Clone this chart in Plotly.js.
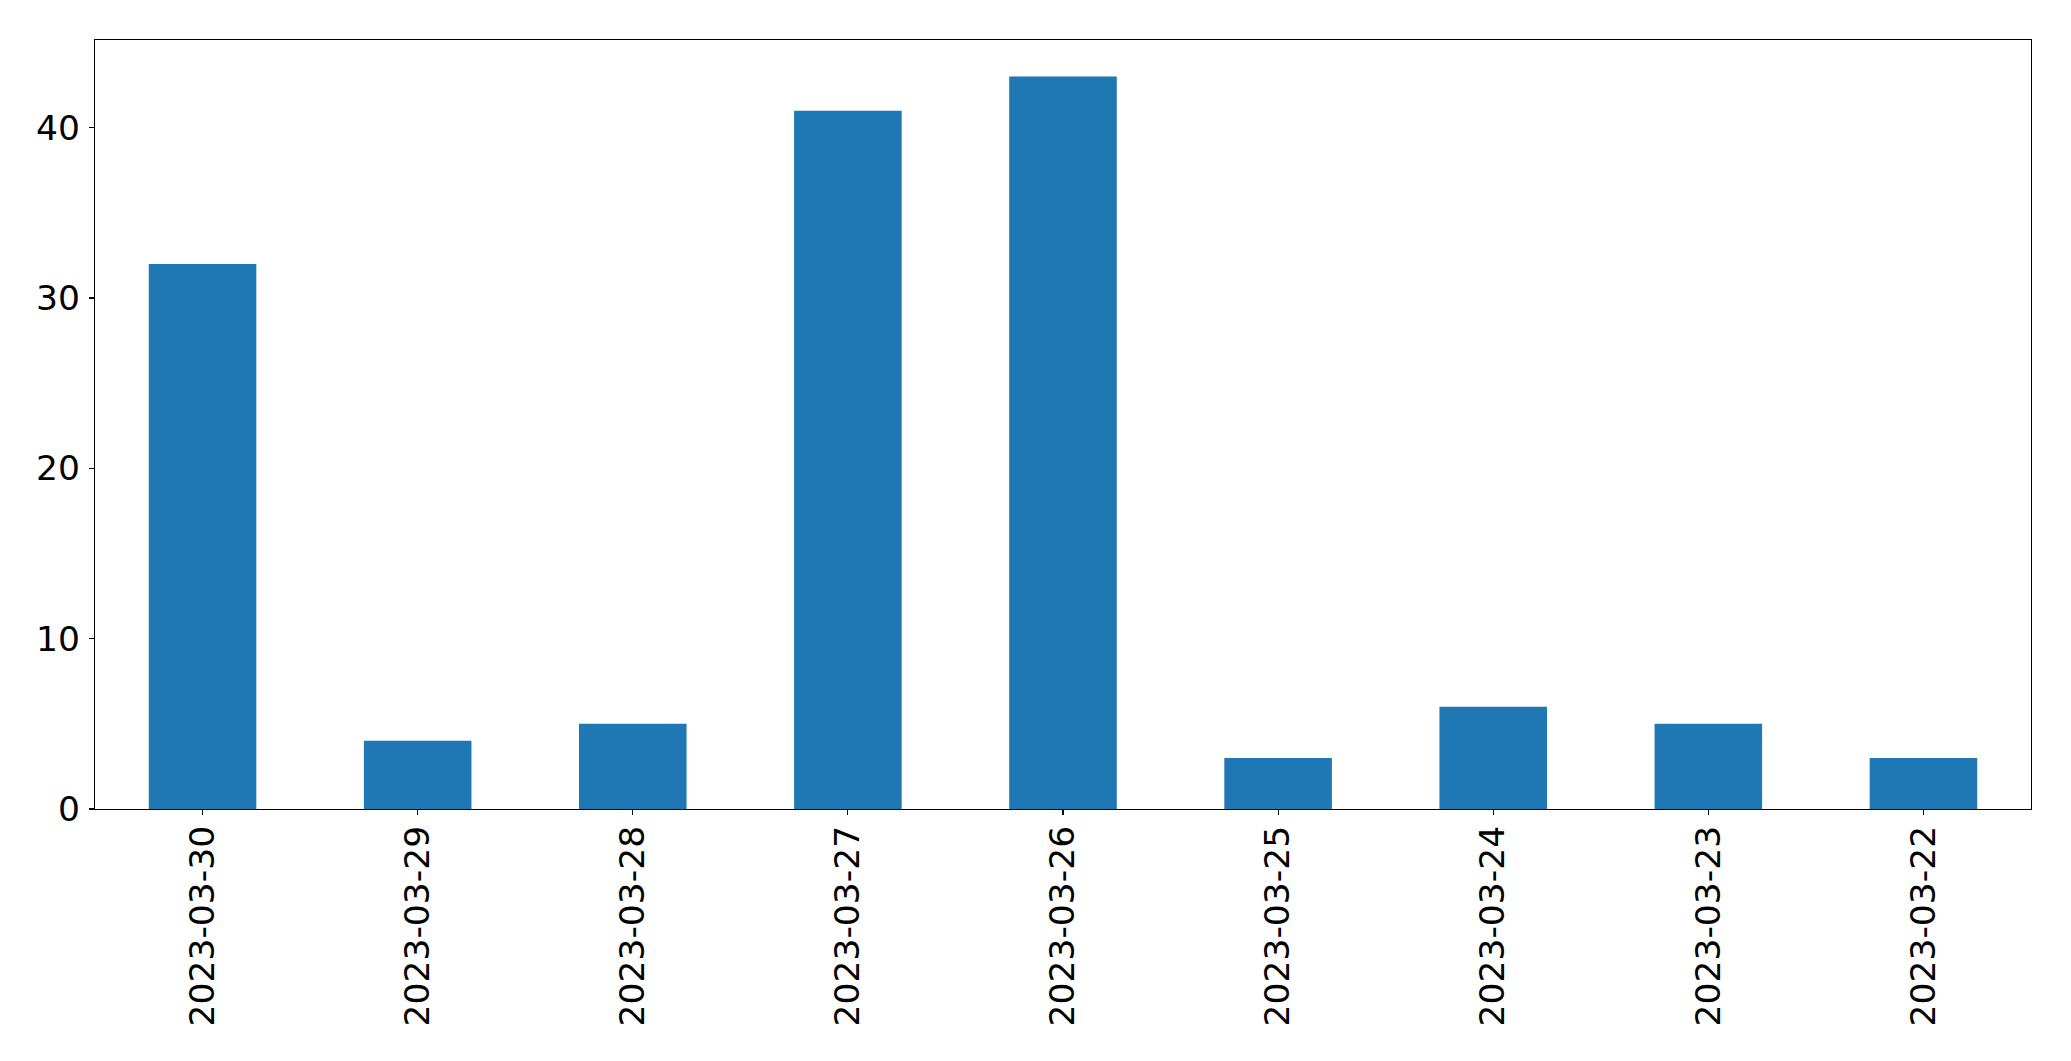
<!DOCTYPE html>
<html>
<head>
<meta charset="utf-8">
<script src="https://cdn.plot.ly/plotly-3.0.1.min.js"></script>
<style>html,body{margin:0;padding:0;background:#fff;}#chart{width:2071px;height:1061px;}</style>
</head>
<body>
<div id="chart"></div>
<script>
const categories = ["2023-03-30","2023-03-29","2023-03-28","2023-03-27","2023-03-26","2023-03-25","2023-03-24","2023-03-23","2023-03-22"];
const values = [32, 4, 5, 41, 43, 3, 6, 5, 3];
const yTicks = [0, 10, 20, 30, 40];

const trace = {
  type: 'bar',
  x: categories,
  y: values,
  width: 0.5,
  marker: {color: '#1f77b4', line: {width: 0}},
  hoverinfo: 'x+y'
};

const axisCommon = {
  showline: true, linecolor: '#000', linewidth: 1.1, mirror: true,
  ticks: 'outside', ticklen: 5, tickwidth: 1.1, tickcolor: '#000',
  showgrid: false, zeroline: false,
  tickfont: {family: 'DejaVu Sans', size: 34.5, color: '#000'}
};

const layout = {
  width: 2071, height: 1061,
  margin: {l: 94.5, r: 39.5, t: 39.5, b: 252, pad: 0},
  paper_bgcolor: '#fff', plot_bgcolor: '#fff',
  showlegend: false,
  bargap: 0.5,
  xaxis: Object.assign({}, axisCommon, {
    type: 'category', range: [-0.5, categories.length - 0.5],
    tickangle: -90, ticklabelstandoff: -3
  }),
  yaxis: Object.assign({}, axisCommon, {
    range: [0, Math.max(...values) * 1.05],
    tickvals: yTicks, ticktext: yTicks.map(String),
    ticklabelstandoff: 2
  })
};

Plotly.newPlot('chart', [trace], layout, {displayModeBar: false, staticPlot: true});
</script>
</body>
</html>
